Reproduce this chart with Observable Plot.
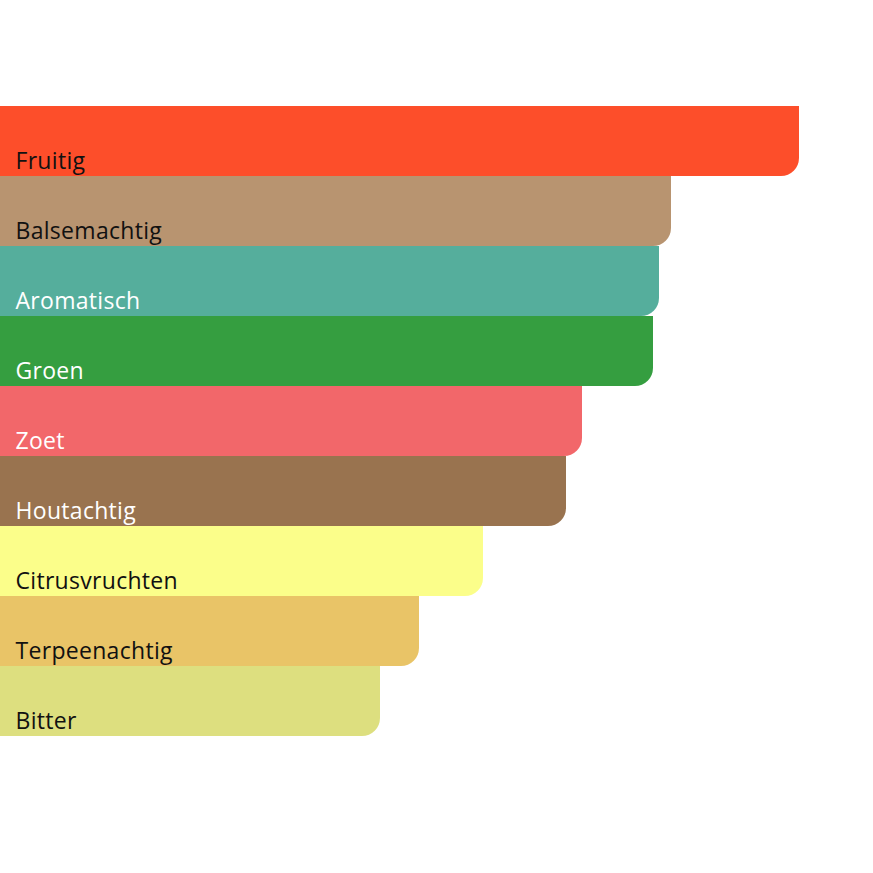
<!DOCTYPE html>
<html>
<head>
<meta charset="utf-8">
<script src="https://cdn.jsdelivr.net/npm/d3@7"></script>
<script src="https://cdn.jsdelivr.net/npm/@observablehq/plot@0.6"></script>
<style>
  html, body { margin: 0; padding: 0; background: #fff; }
  #chart text { letter-spacing: 0.3px; }
</style>
</head>
<body>
<div id="chart"></div>
<script>
const categories = ["Fruitig", "Balsemachtig", "Aromatisch", "Groen", "Zoet", "Houtachtig", "Citrusvruchten", "Terpeenachtig", "Bitter"];
const values = [799, 671, 659, 653, 582, 566, 483, 419, 380];
const colors = ["#fd4e2a", "#b89470", "#55ae9c", "#359e40", "#f2676a", "#99734f", "#fbfe8a", "#e9c467", "#dddf7f"];
const textColors = ["#111", "#111", "#fff", "#fff", "#fff", "#fff", "#111", "#111", "#111"];

const data = categories.map((c, i) => ({ name: c, value: values[i], color: colors[i], text: textColors[i] }));

const chart = Plot.plot({
  width: 873,
  height: 873,
  marginLeft: 0,
  marginRight: 0,
  marginTop: 106,
  marginBottom: 137,
  x: { domain: [0, 873], axis: null },
  y: { domain: categories, padding: 0, axis: null },
  style: { fontFamily: "'Open Sans', Lato, sans-serif", background: "#fff" },
  marks: [
    Plot.barX(data, { x: "value", y: "name", fill: "color", rx2y2: 18 }),
    Plot.text(data, {
      x: 0, y: "name", text: "name", fill: "text",
      textAnchor: "start", lineAnchor: "bottom", dx: 15, dy: 27,
      fontSize: 23
    })
  ]
});
document.getElementById("chart").appendChild(chart);
</script>
</body>
</html>
